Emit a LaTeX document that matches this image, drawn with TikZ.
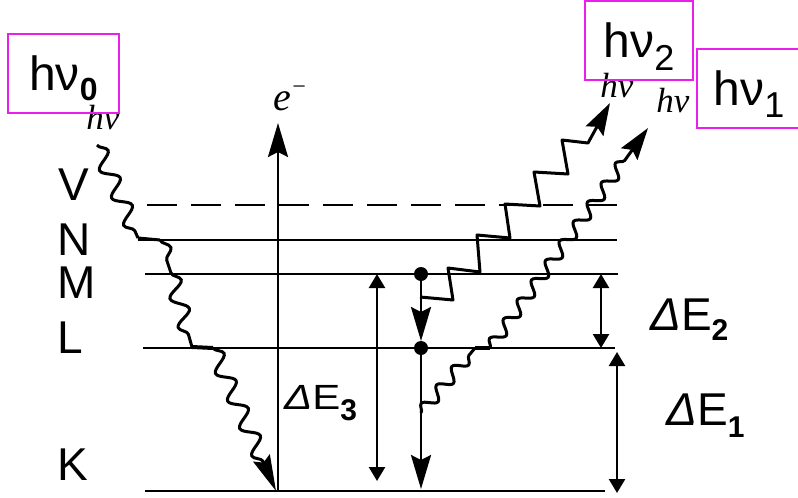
\documentclass[tikz,border=0pt]{standalone}
\usepackage{fontspec}
\setmainfont{Liberation Sans}
\newfontfamily\scanfont{Liberation Serif}
\usetikzlibrary{arrows.meta,decorations.pathmorphing}
\definecolor{boxmag}{RGB}{235,30,235}
\newcommand{\subx}[3]{{\fontsize{#1}{#1}\selectfont\raisebox{#2}{#3}}}
\begin{document}
\begin{tikzpicture}[x=1pt,y=-1pt,
  level/.style={line width=2.5pt},
  lbl/.style={font=\fontsize{46}{50}\selectfont, anchor=base west, inner sep=0pt},
  hvbox/.style={draw=boxmag, line width=2.4pt, inner sep=0pt, anchor=base, text height=56pt, text depth=23pt, font=\fontsize{48}{50}\selectfont},
  scan/.style={font=\scanfont\itshape\fontsize{35}{37}\selectfont, inner sep=0pt},
  wave/.style={decorate, decoration={snake, amplitude=8pt, segment length=30pt}, line width=3pt},
  fwave/.style={decorate, decoration={snake, amplitude=6pt, segment length=24pt}, line width=3pt},
  bigtip/.style={-{Stealth[length=34pt,width=20pt,inset=5pt]}},
  dim/.style={line width=2.5pt, {Triangle[length=14pt,width=16pt]}-{Triangle[length=14pt,width=16pt]}},
  dot/.style={circle, fill, inner sep=0pt, minimum size=14pt}
]
\useasboundingbox (0,0) rectangle (798,498);

% level end points
\coordinate (Vl) at (147,205); \coordinate (Vr) at (622,205);
\coordinate (Nl) at (138,240); \coordinate (Nr) at (617,240);
\coordinate (Ml) at (145,274); \coordinate (Mr) at (618,274);
\coordinate (Ll) at (143,348); \coordinate (Lr) at (615,348);
\coordinate (Kl) at (145,491); \coordinate (Kr) at (605,491);

\draw[level, dash pattern=on 30pt off 14pt] (Vl) -- (Vr);
\draw[level] (Nl) -- (Nr);
\draw[level] (Ml) -- (Mr);
\draw[level] (Ll) -- (Lr);
\draw[level] (Kl) -- (Kr);

% level labels
\node[lbl] (labV) at (58,200) {V};
\node[lbl] (labN) at (57,255) {N};
\node[lbl] (labM) at (57,298) {M};
\node[lbl] (labL) at (57,353) {L};
\node[lbl] (labK) at (57,480) {K};

% electron ejection
\coordinate (eBase) at (278,491);
\coordinate (eTip) at (278,123);
\draw[line width=2.5pt, bigtip] (eBase) -- (eTip);
\node[scan, font=\scanfont\itshape\fontsize{40}{42}\selectfont, anchor=base west] (elab) at (273,110) {e\raisebox{16pt}{\fontsize{24}{24}\selectfont −}};

% incoming photon
\coordinate (i0) at (97,145);
\coordinate (i1) at (138,238);
\coordinate (i2) at (160,240);
\coordinate (i3) at (171,273);
\coordinate (i4) at (192,347);
\coordinate (i5) at (213,348);
\coordinate (i6) at (276,491);
\draw[wave] (i0) -- (i1);
\draw[line width=3pt] (i1) -- (i2);
\draw[wave, decoration={segment length=34pt}] (i2) -- (i3);
\draw[wave] (i3) -- (i4);
\draw[line width=4pt] (i4) -- (i5);
\draw[wave, decoration={post length=32pt}, -{Stealth[length=36pt,width=18pt,inset=5pt]}] (i5) -- (i6);
\node[scan] (hvin) at (103,118) {hν};

% electron transitions
\node[dot] (dM) at (421,274) {};
\node[dot] (dL) at (421,348) {};
\coordinate (tipML) at (421,341);
\coordinate (tipLK) at (421,489);
\draw[line width=2.6pt, bigtip] (dM) -- (tipML);
\draw[line width=2.6pt, bigtip] (dL) -- (tipLK);

% photon hv2 (staircase)
\draw[line width=3pt, line join=round, -{Stealth[length=32pt,width=20pt,inset=5pt]}]
  (420,297) -- (453,300) -- (448,268) -- (480,272) -- (477,235) -- (510,238)
  -- (505,204) -- (540,206) -- (534,172) -- (568,174) -- (562,140) -- (588,143) -- (610,103);
\node[scan] (hv2s) at (617,86) {hν};

% photon hv1
\coordinate (f0) at (421,413);
\coordinate (f1) at (475,348);
\coordinate (f2) at (490,348);
\coordinate (f3) at (648,128);
\draw[fwave] (f0) -- (f1);
\draw[line width=4pt] (f1) -- (f2);
\draw[fwave, decoration={post length=32pt}, -{Stealth[length=32pt,width=20pt,inset=5pt]}] (f2) -- (f3);
\node[scan] (hv1s) at (673,101) {hν};

% energy differences
\coordinate (e3t) at (377,274); \coordinate (e3b) at (377,481);
\coordinate (e2t) at (601,274); \coordinate (e2b) at (601,348);
\coordinate (e1t) at (617,352); \coordinate (e1b) at (617,493);
\draw[dim] (e3t) -- (e3b);
\draw[dim] (e2t) -- (e2b);
\draw[dim] (e1t) -- (e1b);
\node[lbl, font=\fontsize{35}{38}\selectfont] (dE3) at (284,409) {\scalebox{1.2}[1]{\textit{Δ}E}\subx{30}{-11pt}{\textbf{3}}};
\node[lbl] (dE2) at (650,330) {\textit{Δ}E\subx{30}{-10pt}{\textbf{2}}};
\node[lbl] (dE1) at (666,425) {\textit{Δ}E\subx{30}{-12pt}{\textbf{1}}};

% photon label boxes
\node[hvbox, minimum width=111pt] (box0) at (63.5,90) {hν\subx{32}{-10pt}{\textbf{0}}};
\node[hvbox, minimum width=108pt] (box2) at (639,57) {hν\subx{36}{-13pt}{2}};
\node[hvbox, minimum width=104pt] (box1) at (749,105) {hν\subx{36}{-12pt}{1}};
\end{tikzpicture}
\end{document}
